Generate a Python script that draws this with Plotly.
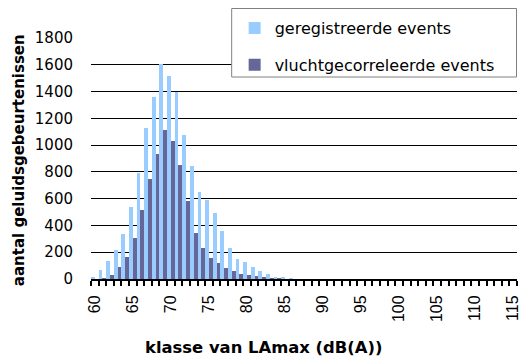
import plotly.graph_objects as go

# LAmax classes (dB(A)) and event counts per class
klassen = list(range(60, 116))
geregistreerd = [15, 70, 135, 215, 335, 540, 790, 1130, 1360, 1605,
                 1515, 1400, 1075, 845, 650, 590, 495, 360, 230, 150,
                 125, 90, 60, 35, 15, 15, 5, 0, 0, 0,
                 0, 0, 0, 0, 0, 0, 0, 0, 0, 0,
                 0, 0, 0, 0, 0, 0, 0, 0, 0, 0,
                 0, 0, 0, 0, 0, 0]
vluchtgecorreleerd = [0, 5, 30, 90, 165, 305, 515, 750, 935, 1110,
                      1030, 850, 585, 345, 230, 155, 120, 80, 60, 40,
                      30, 22, 15, 7, 3, 0, 0, 0, 0, 0,
                      0, 0, 0, 0, 0, 0, 0, 0, 0, 0,
                      0, 0, 0, 0, 0, 0, 0, 0, 0, 0,
                      0, 0, 0, 0, 0, 0]
y_ticks = list(range(0, 2000, 200))
x_ticks = list(range(60, 120, 5))

W, H = 523, 358
L, R, T, B = 91, 2, 38, 79
pw, ph = W - L - R, H - T - B


def px(x):
    return (x - L) / pw


def py(y):
    return (H - B - y) / ph


fig = go.Figure()
fig.add_trace(go.Bar(x=klassen, y=geregistreerd, name="geregistreerde events",
                     marker=dict(color="#99CCFF", line=dict(width=0)),
                     legendgroup="a"))
fig.add_trace(go.Bar(x=klassen, y=vluchtgecorreleerd, name="vluchtgecorreleerde events",
                     marker=dict(color="#666699", line=dict(width=0)),
                     legendgroup="b"))

fig.update_layout(
    width=W, height=H,
    margin=dict(l=L, r=R, t=T, b=B),
    paper_bgcolor="white", plot_bgcolor="white",
    barmode="group", bargap=0, bargroupgap=0,
    showlegend=True,
    legend=dict(x=px(236), xanchor="left", y=py(11), yanchor="top",
                bgcolor="rgba(0,0,0,0)", borderwidth=0,
                traceorder="grouped", tracegroupgap=13,
                font=dict(family="DejaVu Sans", size=16, color="black")),
    xaxis=dict(range=[59.5, 115.5], tickvals=x_ticks, ticktext=[str(v) for v in x_ticks],
               tickangle=-90, tickfont=dict(family="Liberation Sans", size=16, color="black"),
               ticklabeloverflow="allow",
               ticks="outside", ticklen=5, tickcolor="rgba(0,0,0,0)",
               ticklabelstandoff=3,
               minor=dict(tick0=59.5, dtick=1, ticks="outside", ticklen=5,
                          tickcolor="black", tickwidth=1.5, showgrid=False),
               showline=True, linecolor="black", linewidth=2,
               showgrid=False, zeroline=False),
    yaxis=dict(range=[0, 1800], tickvals=y_ticks,
               tickfont=dict(family="DejaVu Sans", size=15, color="black"),
               ticks="", ticklabelstandoff=17,
               showgrid=True, gridcolor="black", gridwidth=1,
               showline=False, zeroline=False),
    shapes=[dict(type="rect", xref="paper", yref="paper",
                 x0=px(233), x1=px(520.5), y0=py(77), y1=py(8.5),
                 fillcolor="white", line=dict(color="#808080", width=1),
                 layer="above")],
    annotations=[
        dict(text="<b>klasse van LAmax (dB(A))</b>", xref="paper", yref="paper",
             x=px(265), y=py(347), xanchor="center", yanchor="middle", showarrow=False,
             font=dict(family="DejaVu Sans", size=16.4, color="black")),
        dict(text="<b>aantal geluidsgebeurtenissen</b>", xref="paper", yref="paper",
             x=px(18), y=py(160.5), xanchor="center", yanchor="middle", showarrow=False,
             textangle=-90, font=dict(family="DejaVu Sans", size=15, color="black")),
    ],
)

fig.write_html("out.html")
